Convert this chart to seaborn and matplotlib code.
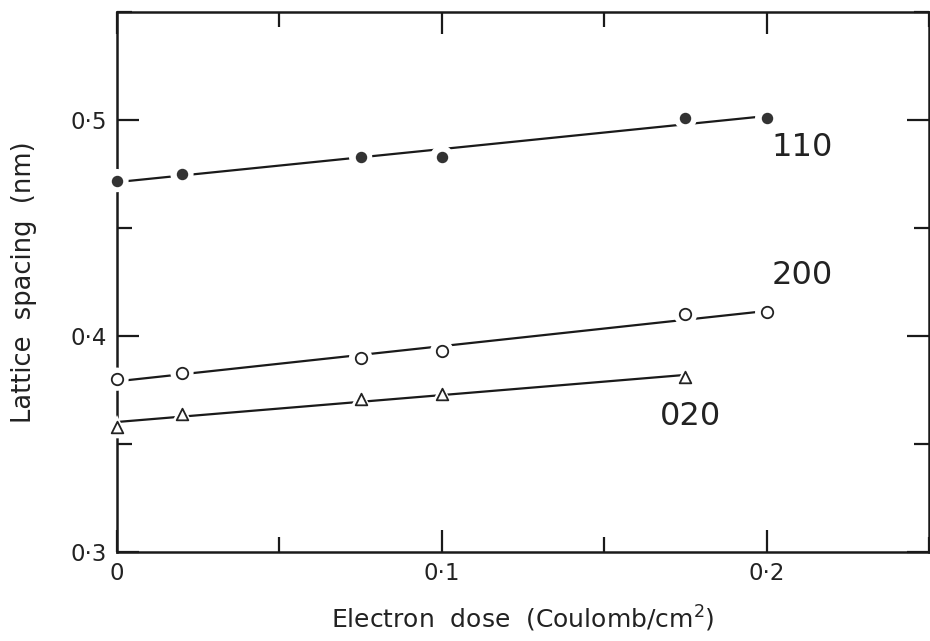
import seaborn as sns
import matplotlib.pyplot as plt
import pandas as pd
import numpy as np
from matplotlib.ticker import FixedLocator, NullFormatter

# values
dose = [0, 0.02, 0.075, 0.1, 0.175, 0.2]
spacing_110 = [0.472, 0.475, 0.483, 0.483, 0.501, 0.501]
spacing_200 = [0.380, 0.383, 0.390, 0.393, 0.410, 0.411]
dose_020 = [0, 0.02, 0.075, 0.1, 0.175]
spacing_020 = [0.358, 0.364, 0.371, 0.373, 0.381]

x_major = [0, 0.1, 0.2]
x_major_labels = ['0', '0·1', '0·2']
x_minor = [0.05, 0.15, 0.25]
y_major = [0.3, 0.4, 0.5]
y_major_labels = ['0·3', '0·4', '0·5']
y_minor = [0.35, 0.45, 0.55]

reflections = ['110', '200', '020']
label_pos = {'110': (0.2015, 0.4875), '200': (0.2015, 0.428), '020': (0.167, 0.3627)}

df = pd.concat([
    pd.DataFrame({'dose': dose, 'spacing': spacing_110, 'hkl': '110'}),
    pd.DataFrame({'dose': dose, 'spacing': spacing_200, 'hkl': '200'}),
    pd.DataFrame({'dose': dose_020, 'spacing': spacing_020, 'hkl': '020'}),
])

sns.set_theme(style='white')
plt.rcParams['font.family'] = ['DejaVu Sans']

fig = plt.figure(figsize=(9.3, 6.41), dpi=100)
ax = fig.add_axes([0.1258, 0.139, 0.8732, 0.842])

styles = {
    '110': dict(marker='o', s=48, facecolor='#333333', edgecolor='#333333'),
    '200': dict(marker='o', s=68, facecolor='white', edgecolor='#222222'),
    '020': dict(marker='^', s=70, facecolor='white', edgecolor='#222222'),
}

for hkl in reflections:
    sub = df[df['hkl'] == hkl]
    sns.regplot(data=sub, x='dose', y='spacing', ax=ax, scatter=False, ci=None,
                truncate=True, line_kws=dict(color='#1a1a1a', lw=1.6, zorder=3))
    # white halo so the line stops short of each marker
    sns.scatterplot(data=sub, x='dose', y='spacing', ax=ax, marker=styles[hkl]['marker'],
                    s=280, color='white', edgecolor='none', zorder=4, clip_on=False,
                    legend=False)
    sns.scatterplot(data=sub, x='dose', y='spacing', ax=ax, marker=styles[hkl]['marker'],
                    s=styles[hkl]['s'], facecolor=styles[hkl]['facecolor'],
                    edgecolor=styles[hkl]['edgecolor'], linewidth=1.3, zorder=5,
                    clip_on=False, legend=False)
    tx, ty = label_pos[hkl]
    ax.text(tx, ty, hkl, fontsize=23, ha='left', va='center', color='#222222')

ax.set_xlim(0, 0.25)
ax.set_ylim(0.3, 0.55)

ax.xaxis.set_major_locator(FixedLocator(x_major))
ax.set_xticklabels(x_major_labels)
ax.xaxis.set_minor_locator(FixedLocator(x_minor))
ax.yaxis.set_major_locator(FixedLocator(y_major))
ax.set_yticklabels(y_major_labels)
ax.yaxis.set_minor_locator(FixedLocator(y_minor))
ax.xaxis.set_minor_formatter(NullFormatter())
ax.yaxis.set_minor_formatter(NullFormatter())

ax.tick_params(which='both', direction='in', top=True, right=True, bottom=True, left=True,
               color='#1a1a1a', width=1.6, labelsize=16.5, labelcolor='#222222')
ax.tick_params(which='major', length=16, pad=7)
ax.tick_params(which='minor', length=11)

for sp in ax.spines.values():
    sp.set_linewidth(1.8)
    sp.set_color('#1a1a1a')

ax.set_xlabel('Electron  dose  (Coulomb/cm$^{2}$)', fontsize=18, labelpad=14, color='#222222')
ax.set_ylabel('Lattice  spacing  (nm)', fontsize=18.5, labelpad=24, color='#222222')

fig.savefig('out.png', dpi=100)
